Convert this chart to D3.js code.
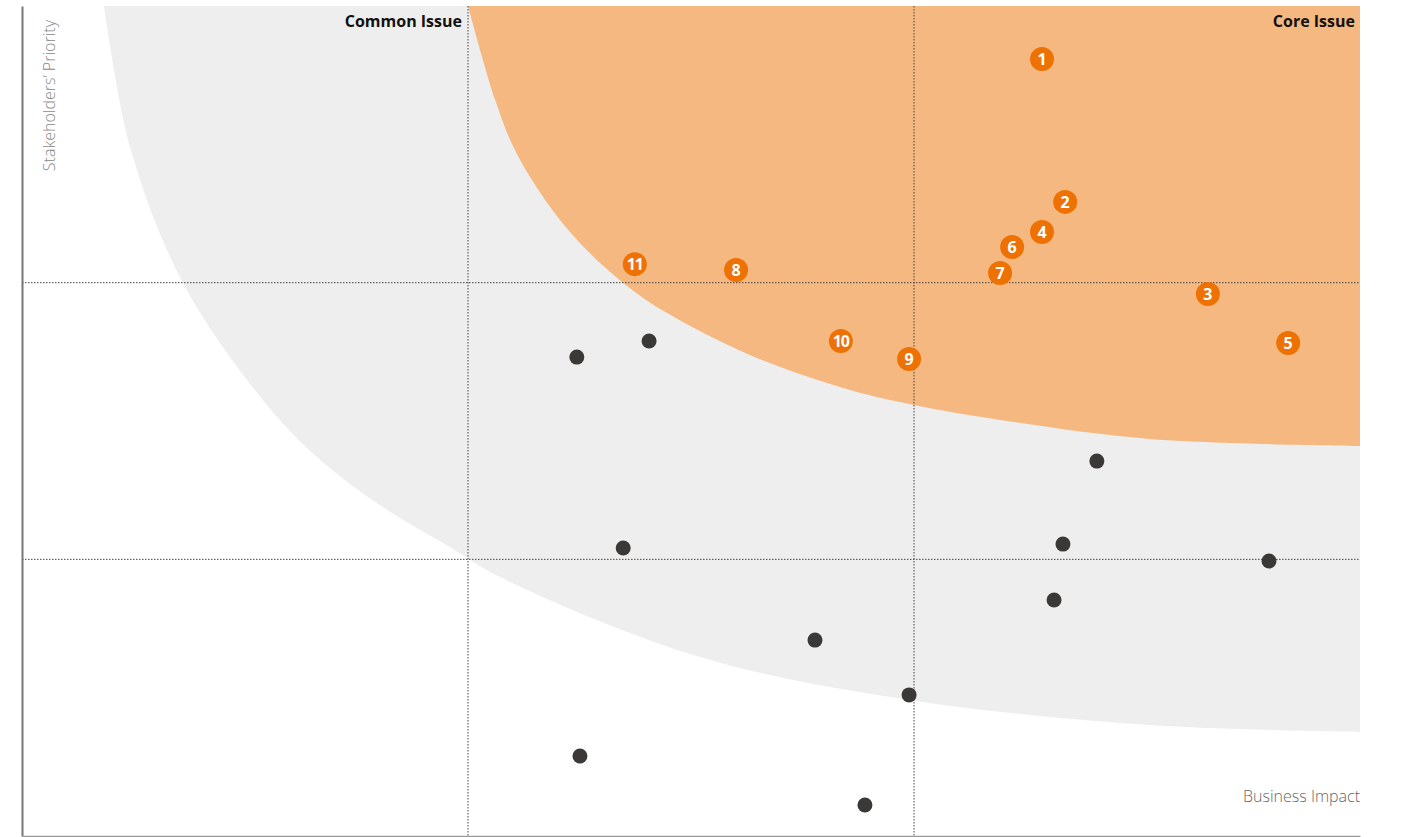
<!DOCTYPE html>
<html>
<head>
<meta charset="utf-8">
<script src="https://cdn.jsdelivr.net/npm/d3@7"></script>
<style>
  body { margin: 0; background: #fff; font-family: "Open Sans", "Noto Sans", sans-serif; }
</style>
</head>
<body>
<script>
// issues (x = business impact, y = stakeholders' priority, scale 0..3)
let coreLabels = ["1", "2", "3", "4", "5", "6", "7", "8", "9", "10", "11"];
let coreX = [2.287, 2.339, 2.659, 2.287, 2.839, 2.220, 2.193, 1.601, 1.989, 1.836, 1.374];
let coreY = [2.808, 2.292, 1.959, 2.183, 1.782, 2.129, 2.035, 2.046, 1.724, 1.789, 2.067];

let otherX = [1.244, 1.406, 1.348, 1.778, 1.989, 1.251, 1.890, 2.410, 2.334, 2.314, 2.796];
let otherY = [1.731, 1.789, 1.041, 0.708, 0.510, 0.289, 0.112, 1.355, 1.055, 0.853, 0.994];

// boundary of the "common issue" band and of the "core issue" area
let bandX = [0.184, 0.244, 0.361, 0.540, 0.661, 0.809, 0.960, 1.072, 1.520, 1.989, 2.529, 3.0];
let bandY = [3.0, 2.480, 1.999, 1.576, 1.370, 1.189, 1.044, 0.936, 0.647, 0.492, 0.401, 0.376];
let coreEdgeX = [1.0, 1.061, 1.105, 1.173, 1.251, 1.348, 1.435, 1.632, 1.857, 2.0, 2.193, 2.529, 3.0];
let coreEdgeY = [3.0, 2.660, 2.480, 2.299, 2.143, 1.999, 1.901, 1.739, 1.612, 1.558, 1.504, 1.435, 1.410];

let gridTicks = [1, 2];

let margin = {top: 6, right: 42, bottom: 1, left: 22},
    width = 1402 - margin.left - margin.right,
    height = 837 - margin.top - margin.bottom;

let x = d3.scaleLinear().domain([0, 3]).range([0, width]);
let y = d3.scaleLinear().domain([0, 3]).range([height, 0]);

let svg = d3.select("body").append("svg")
    .attr("width", 1402)
    .attr("height", 837);
let chart = svg.append("g")
    .attr("transform", "translate(" + margin.left + "," + margin.top + ")");

// regions
let edge = d3.line()
    .x(function(d) { return x(d[0]); })
    .y(function(d) { return y(d[1]); })
    .curve(d3.curveCatmullRom.alpha(0.5));

function regionPath(xs, ys) {
  let pts = xs.map(function(v, i) { return [v, ys[i]]; });
  return edge(pts) + "L" + x(3) + "," + y(3) + "Z";
}

chart.append("path")
    .attr("d", regionPath(bandX, bandY))
    .attr("fill", "#eeeeee");
chart.append("path")
    .attr("d", regionPath(coreEdgeX, coreEdgeY))
    .attr("fill", "#f5b880");

// dotted grid
chart.selectAll(".vgrid")
    .data(gridTicks)
    .enter().append("line")
    .attr("x1", function(d) { return x(d); })
    .attr("x2", function(d) { return x(d); })
    .attr("y1", 0)
    .attr("y2", height)
    .attr("stroke", "#444")
    .attr("stroke-width", 1)
    .attr("stroke-dasharray", "1.5,1.5");
chart.selectAll(".hgrid")
    .data(gridTicks)
    .enter().append("line")
    .attr("x1", 0)
    .attr("x2", width)
    .attr("y1", function(d) { return y(d); })
    .attr("y2", function(d) { return y(d); })
    .attr("stroke", "#444")
    .attr("stroke-width", 1)
    .attr("stroke-dasharray", "1.5,1.5");

// axes (no ticks)
chart.append("g")
    .call(d3.axisLeft(y).tickValues([]).tickSizeOuter(0))
    .select(".domain").attr("stroke", "#777").attr("stroke-width", 2);
chart.append("g")
    .attr("transform", "translate(0," + height + ")")
    .call(d3.axisBottom(x).tickValues([]).tickSizeOuter(0))
    .select(".domain").attr("stroke", "#999").attr("stroke-width", 1.5);

// other issues
chart.selectAll(".dot")
    .data(otherX)
    .enter().append("circle")
    .attr("cx", function(d) { return x(d); })
    .attr("cy", function(d, i) { return y(otherY[i]); })
    .attr("r", 7.5)
    .attr("fill", "#3b3838");

// core issues
let core = chart.selectAll(".core")
    .data(coreLabels)
    .enter().append("g")
    .attr("transform", function(d, i) { return "translate(" + x(coreX[i]) + "," + y(coreY[i]) + ")"; });
core.append("circle")
    .attr("r", 12)
    .attr("fill", "#ee7203");
core.append("text")
    .attr("text-anchor", "middle")
    .attr("dy", "0.36em")
    .attr("fill", "#fff")
    .attr("font-size", 16)
    .attr("font-weight", "bold")
    .attr("letter-spacing", function(d) { return d.length > 1 ? "-1px" : "0"; })
    .text(function(d) { return d; });

// labels
chart.append("text")
    .attr("x", x(1) - 6)
    .attr("y", 21)
    .attr("text-anchor", "end")
    .attr("font-size", 16)
    .attr("font-weight", "bold")
    .attr("fill", "#111")
    .text("Common Issue");
chart.append("text")
    .attr("x", width - 5)
    .attr("y", 21)
    .attr("text-anchor", "end")
    .attr("font-size", 16)
    .attr("font-weight", "bold")
    .attr("fill", "#111")
    .text("Core Issue");
chart.append("text")
    .attr("x", width)
    .attr("y", height - 34)
    .attr("text-anchor", "end")
    .attr("font-size", 16)
    .attr("font-weight", 300)
    .attr("fill", "#666")
    .text("Business Impact");
chart.append("text")
    .attr("transform", "translate(" + 33 + "," + 14 + ") rotate(-90)")
    .attr("text-anchor", "end")
    .attr("font-size", 16)
    .attr("font-weight", 300)
    .attr("fill", "#888")
    .text("Stakeholders\u2019 Priority");
</script>
</body>
</html>
